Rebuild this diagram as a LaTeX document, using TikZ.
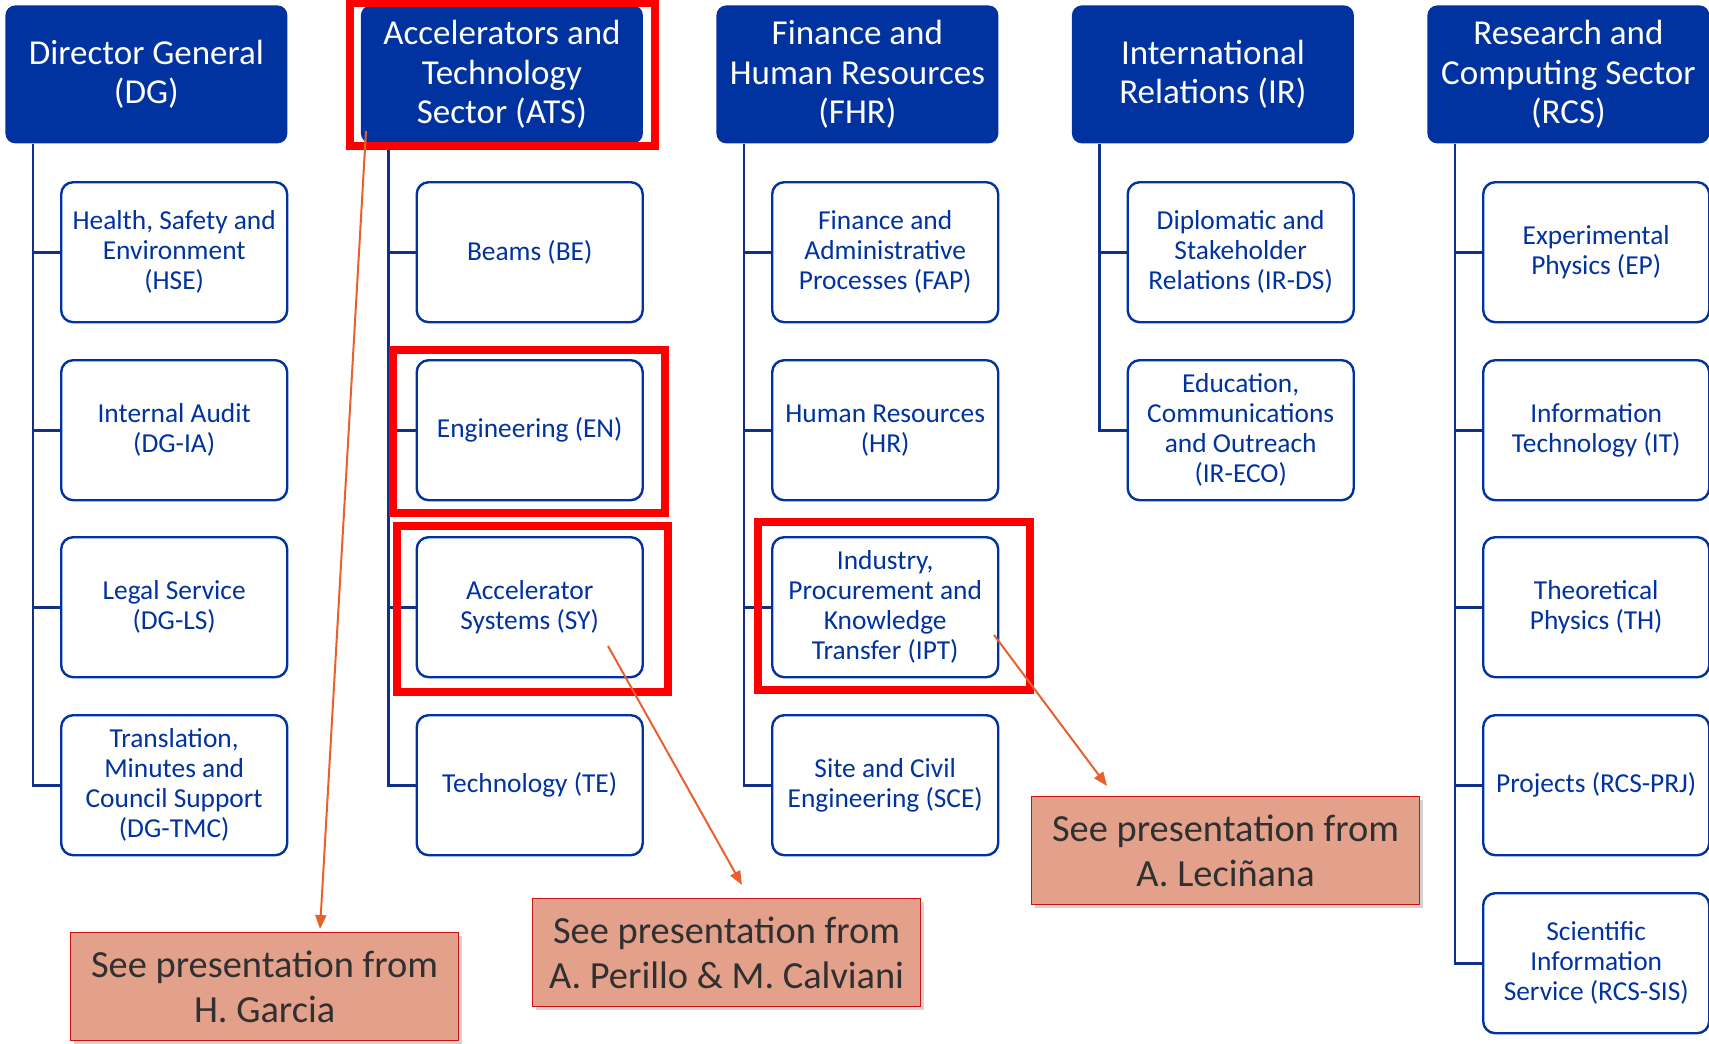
\documentclass[tikz,border=0pt]{standalone}
\usepackage{fontspec}
\setmainfont{Carlito}
\usetikzlibrary{arrows.meta,calc,shadows}
\definecolor{cblue}{RGB}{0,51,160}
\definecolor{lineblue}{RGB}{16,48,140}
\definecolor{salmon}{RGB}{227,160,138}
\definecolor{callborder}{RGB}{200,20,20}
\definecolor{hlred}{RGB}{255,0,0}
\definecolor{arrorange}{RGB}{232,96,46}
\definecolor{calltext}{RGB}{48,48,48}
\tikzset{
  hdr/.style={fill=cblue, rounded corners=5pt, text=white, minimum width=141pt,
    minimum height=69pt, align=center, inner sep=0pt, anchor=north west,
    font=\fontsize{17.5}{19.8}\selectfont},
  sub/.style={draw=cblue, line width=1.2pt, rounded corners=6pt, fill=white, text=cblue,
    minimum width=113pt, minimum height=70pt, align=center, inner sep=0pt, anchor=north west,
    font=\fontsize{13.7}{15}\selectfont},
  tree/.style={draw=lineblue, line width=1.4pt},
  callout/.style={fill=salmon, draw=callborder, line width=0.6pt, text=calltext,
    minimum width=194pt, minimum height=54pt, align=center, inner sep=0pt, anchor=north west,
    font=\fontsize{19.2}{22.5}\selectfont,
    drop shadow={shadow xshift=1.5pt, shadow yshift=-1.5pt, opacity=0.35, fill=gray}},
  hlbox/.style={draw=hlred, line width=3.6pt},
  pointer/.style={draw=arrorange, line width=1pt, -{Triangle[length=7pt,width=5.5pt]}}
}
\begin{document}
\begin{tikzpicture}[x=0.5pt,y=-0.5pt]
\useasboundingbox (0,0) rectangle (1709,1044);

% headers
\node[hdr] (h0) at (5,5) {Director General\\(DG)};
\node[hdr] (h1) at (360.5,5) {Accelerators and\\Technology\\Sector (ATS)};
\node[hdr] (h2) at (716,5) {Finance and\\Human Resources\\(FHR)};
\node[hdr] (h3) at (1071.5,5) {International\\Relations (IR)};
\node[hdr] (h4) at (1427,5) {Research and\\Computing Sector\\(RCS)};

% DG children
\node[sub] (c00) at (60,181) {Health, Safety and\\Environment\\(HSE)};
\node[sub] (c01) at (60,359) {Internal Audit\\(DG-IA)};
\node[sub] (c02) at (60,536) {Legal Service\\(DG-LS)};
\node[sub] (c03) at (60,714) {Translation,\\Minutes and\\Council Support\\(DG-TMC)};
% ATS children
\node[sub] (c10) at (415.5,181) {Beams (BE)};
\node[sub] (c11) at (415.5,359) {Engineering (EN)};
\node[sub] (c12) at (415.5,536) {Accelerator\\Systems (SY)};
\node[sub] (c13) at (415.5,714) {Technology (TE)};
% FHR children
\node[sub] (c20) at (771,181) {Finance and\\Administrative\\Processes (FAP)};
\node[sub] (c21) at (771,359) {Human Resources\\(HR)};
\node[sub] (c22) at (771,536) {Industry,\\Procurement and\\Knowledge\\Transfer (IPT)};
\node[sub] (c23) at (771,714) {Site and Civil\\Engineering (SCE)};
% IR children
\node[sub] (c30) at (1126.5,181) {Diplomatic and\\Stakeholder\\Relations (IR-DS)};
\node[sub] (c31) at (1126.5,359) {Education,\\Communications\\and Outreach\\(IR-ECO)};
% RCS children
\node[sub] (c40) at (1482,181) {Experimental\\Physics (EP)};
\node[sub] (c41) at (1482,359) {Information\\Technology (IT)};
\node[sub] (c42) at (1482,536) {Theoretical\\Physics (TH)};
\node[sub] (c43) at (1482,714) {Projects (RCS-PRJ)};
\node[sub] (c44) at (1482,892) {Scientific\\Information\\Service (RCS-SIS)};

% tree connectors
\foreach \k in {0,...,3} \draw[tree] ($(h0.south west)+(28,0)$) |- (c0\k.west);
\foreach \k in {0,...,3} \draw[tree] ($(h1.south west)+(28,0)$) |- (c1\k.west);
\foreach \k in {0,...,3} \draw[tree] ($(h2.south west)+(28,0)$) |- (c2\k.west);
\foreach \k in {0,1} \draw[tree] ($(h3.south west)+(28,0)$) |- (c3\k.west);
\foreach \k in {0,...,4} \draw[tree] ($(h4.south west)+(28,0)$) |- (c4\k.west);

% red highlights
\draw[hlbox] (350,3) rectangle (655,146);
\draw[hlbox] (393,350) rectangle (665,513);
\draw[hlbox] (397,526) rectangle (668,692);
\draw[hlbox] (758,522) rectangle (1030,690);

% callouts
\node[callout] (g) at (70,932) {See presentation from\\H. Garcia};
\node[callout] (p) at (532,898) {See presentation from\\A. Perillo \& M. Calviani};
\node[callout] (l) at (1031,796) {See presentation from\\A. Leciñana};

% pointers
\coordinate (s1) at (366,131);
\coordinate (s2) at (608,646);
\coordinate (s3) at (994,635);
\draw[pointer] (s1) -- ($(g.north west)+(250,-3)$);
\draw[pointer] (s2) -- ($(p.north west)+(210,-13)$);
\draw[pointer] (s3) -- ($(l.north west)+(76,-10)$);
\end{tikzpicture}
\end{document}
